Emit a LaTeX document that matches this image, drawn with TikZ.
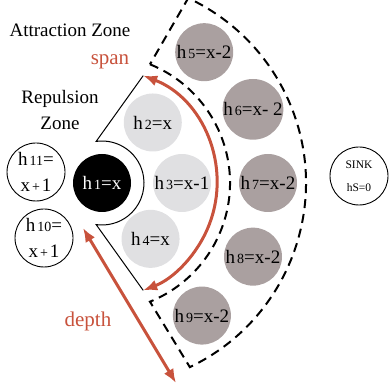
\documentclass[tikz,border=0pt]{standalone}
\usepackage{fontspec}
\setmainfont{Liberation Serif}
\usetikzlibrary{calc}
\usetikzlibrary{arrows.meta}

\definecolor{spanred}{RGB}{200,82,60}
\definecolor{farhop}{RGB}{170,160,160}
\definecolor{nearhop}{RGB}{224,224,226}

% small index digits after the h
\newcommand{\hidx}[1]{\hspace{2pt}{\fontsize{14}{14}\selectfont #1}}

\begin{document}
\begin{tikzpicture}[
    x=1pt, y=1pt,
    >={Latex[length=14pt,width=11pt]},
    every node/.style={font=\fontsize{19}{26}\selectfont, inner sep=0pt},
    hop/.style={circle, minimum size=58pt, align=center},
    inhop/.style={hop, fill=nearhop},
    outhop/.style={hop, fill=farhop},
    whitehop/.style={hop, draw, line width=0.9pt},
    zoneline/.style={line width=2pt, dash pattern=on 9pt off 6pt},
    redarrow/.style={<->, draw=spanred, line width=3pt},
    redtext/.style={text=spanred, font=\fontsize{21}{25}\selectfont},
    zonetext/.style={font=\fontsize{19}{26}\selectfont, align=center}
]
\useasboundingbox (0,0) rectangle (388,390);
\coordinate (c) at (102,207);

% zones
\draw[zoneline] ($(c)+(68:128)$) arc[start angle=68, end angle=-68, radius=128]
    -- ($(c)+(-64.5:204)$) arc[start angle=-64.5, end angle=65, radius=204] -- cycle;
\coordinate (spantop) at ($(c)+(69:115)$);
\coordinate (spanbot) at ($(c)+(-69:115)$);
\draw[line width=1pt] (spantop) -- ($(c)+(98:42)$) arc[start angle=98, end angle=-98, radius=42] -- (spanbot);

% hops
\node[hop, fill=black, text=white] (h1) at (c) {h\hidx{1}=x};
\node[inhop] (h2) at ($(c)+(50:79)$) {h\hidx{2}=x};
\node[inhop] (h3) at ($(c)+(0:80)$) {h\hidx{3}=x-1};
\node[inhop] (h4) at ($(c)+(-49:74)$) {h\hidx{4}=x};
\node[outhop] (h5) at ($(c)+(52:166)$) {h\hidx{5}=x-2};
\node[outhop] (h6) at ($(c)+(26:168)$) {h\hidx{6}=x- 2};
\node[outhop] (h7) at ($(c)+(0:166)$) {h\hidx{7}=x-2};
\node[outhop] (h8) at ($(c)+(-26:168)$) {h\hidx{8}=x-2};
\node[outhop] (h9) at ($(c)+(-53:166)$) {h\hidx{9}=x-2};
\node[whitehop] (h11) at (36,218) {h\hidx{11}=\\x\hidx{+}\hspace{2pt}1};
\node[whitehop] (h10) at (44,152) {h\hidx{10}=\\x\hidx{+}\hspace{2pt}1};
\node[whitehop, font=\fontsize{11.5}{23}\selectfont] (sink) at (359,214) {SINK\\hS=0};

% labels
\node[zonetext] (attr) at (70,360) {Attraction Zone};
\node[zonetext] (rep) at (60,280) {Repulsion\\Zone};
\node[redtext] (span) at (110,328) {span};
\node[redtext] (depth) at (88,69) {depth};

% span and depth
\draw[redarrow] (spantop) arc[start angle=69, end angle=-69, radius=115];
\coordinate (dtop) at (83,162);
\coordinate (dbot) at (176,7);
\draw[redarrow] (dtop) -- (dbot);
\end{tikzpicture}
\end{document}
